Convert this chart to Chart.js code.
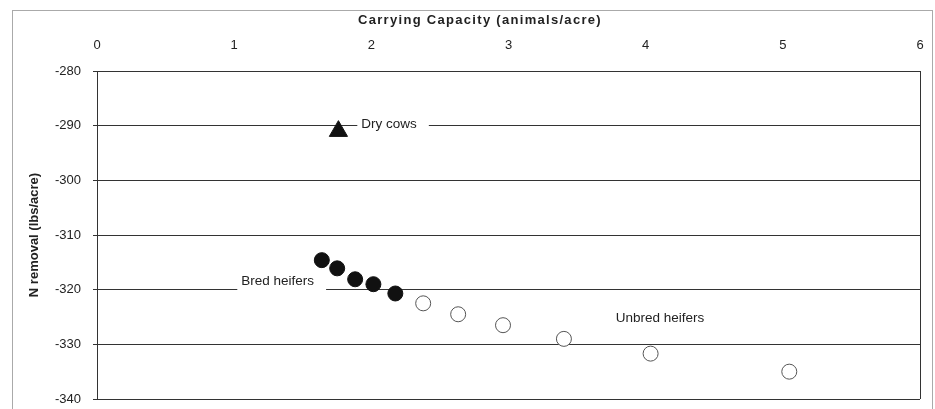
<!DOCTYPE html>
<html><head><meta charset="utf-8">
<script src="https://cdn.jsdelivr.net/npm/chart.js@4"></script>
<style>html,body{margin:0;padding:0;background:#fff}</style>
</head><body>
<canvas id="c" width="935" height="409"></canvas>
<script>
const xTicks = [0, 1, 2, 3, 4, 5, 6];
const yTicks = [-280, -290, -300, -310, -320, -330, -340];
const dryCowsX = [1.76];
const dryCowsY = [-291.0];
const bredX = [1.639, 1.751, 1.882, 2.015, 2.175];
const bredY = [-314.6, -316.1, -318.1, -319.0, -320.7];
const unbredX = [2.378, 2.633, 2.96, 3.404, 4.036, 5.047];
const unbredY = [-322.5, -324.5, -326.5, -329.0, -331.7, -335.0];
const labelTexts = ['Dry cows', 'Bred heifers', 'Unbred heifers'];
const labelX = [1.927, 1.052, 3.782];
const labelY = [-289.7, -318.5, -325.2];
const xTitle = 'Carrying Capacity (animals/acre)';
const yTitle = 'N removal (lbs/acre)';

const FONT = '"Liberation Sans", Arial, sans-serif';
Chart.defaults.font.family = FONT;
Chart.defaults.font.size = 13;
Chart.defaults.color = '#222';

const pts = (xs, ys) => xs.map((x, i) => ({x, y: ys[i]}));

const PLOT_BOTTOM = 399;

const deco = {
  id: 'deco',
  afterLayout(chart) {
    const a = chart.chartArea;
    if (a.bottom < PLOT_BOTTOM) {
      a.bottom = PLOT_BOTTOM;
      a.height = a.bottom - a.top;
      const y = chart.scales.y;
      y.bottom = PLOT_BOTTOM;
      y.height = y.bottom - y.top;
      y.configure();
    }
  },
  beforeDraw(chart) {
    const ctx = chart.ctx;
    ctx.save();
    ctx.strokeStyle = '#aaa';
    ctx.lineWidth = 1;
    ctx.strokeRect(12.5, 10.5, 920, 420);
    ctx.restore();
  },
  beforeDatasetsDraw(chart) {
    const {ctx, chartArea: a, scales: {x, y}} = chart;
    ctx.save();
    ctx.strokeStyle = '#333';
    ctx.lineWidth = 1;
    ctx.beginPath();
    ctx.moveTo(a.right + 0.5, a.top);
    ctx.lineTo(a.right + 0.5, a.bottom);
    ctx.stroke();
    ctx.font = '13.5px ' + FONT;
    ctx.textBaseline = 'middle';
    ctx.textAlign = 'left';
    labelTexts.forEach((t, i) => {
      const px = x.getPixelForValue(labelX[i]);
      const py = y.getPixelForValue(labelY[i]);
      const w = ctx.measureText(t).width;
      ctx.fillStyle = '#fff';
      ctx.fillRect(px - 4, py - 10, w + 16, 20);
      ctx.fillStyle = '#222';
      ctx.fillText(t, px, py);
    });
    // top axis title
    ctx.font = 'bold 13px ' + FONT;
    ctx.textAlign = 'center';
    if ('letterSpacing' in ctx) ctx.letterSpacing = '1.3px';
    ctx.fillStyle = '#222';
    ctx.fillText(xTitle, 480, 20);
    ctx.restore();
  }
};

new Chart(document.getElementById('c'), {
  type: 'scatter',
  data: {
    datasets: [
      {label: 'Dry cows', data: pts(dryCowsX, dryCowsY), pointStyle: 'triangle', pointRadius: 10.5,
       backgroundColor: '#111', borderColor: '#111', borderWidth: 1},
      {label: 'Bred heifers', data: pts(bredX, bredY), pointStyle: 'circle', pointRadius: 7.5,
       backgroundColor: '#111', borderColor: '#111', borderWidth: 1},
      {label: 'Unbred heifers', data: pts(unbredX, unbredY), pointStyle: 'circle', pointRadius: 7.5,
       backgroundColor: '#fff', borderColor: '#555', borderWidth: 1}
    ]
  },
  options: {
    responsive: false,
    animation: false,
    devicePixelRatio: 1,
    layout: {padding: {left: 0, top: 0, right: 15, bottom: 10}},
    plugins: {legend: {display: false}, tooltip: {enabled: false}},
    scales: {
      x: {
        type: 'linear', position: 'top', min: 0, max: 6,
        afterBuildTicks: s => { s.ticks = xTicks.map(v => ({value: v})); },
        afterFit: s => { s.height = 71; s.paddingLeft = 0; s.paddingRight = 0; },
        grid: {display: false, drawTicks: false},
        border: {display: false},
        ticks: {padding: 18, font: {size: 13}},
        title: {display: false, text: xTitle}
      },
      y: {
        type: 'linear', min: -340, max: -280,
        afterBuildTicks: s => { s.ticks = yTicks.map(v => ({value: v})); },
        afterFit: s => { s.width = 97; s.paddingTop = 0; s.paddingBottom = 0; },
        grid: {color: '#333', lineWidth: 1, tickLength: 4, drawTicks: true},
        border: {color: '#333'},
        ticks: {padding: 12, font: {size: 13}},
        title: {display: true, text: yTitle, font: {size: 13, weight: 'bold'}, padding: {top: 27, bottom: 0}}
      }
    }
  },
  plugins: [deco]
});
</script>
</body></html>
